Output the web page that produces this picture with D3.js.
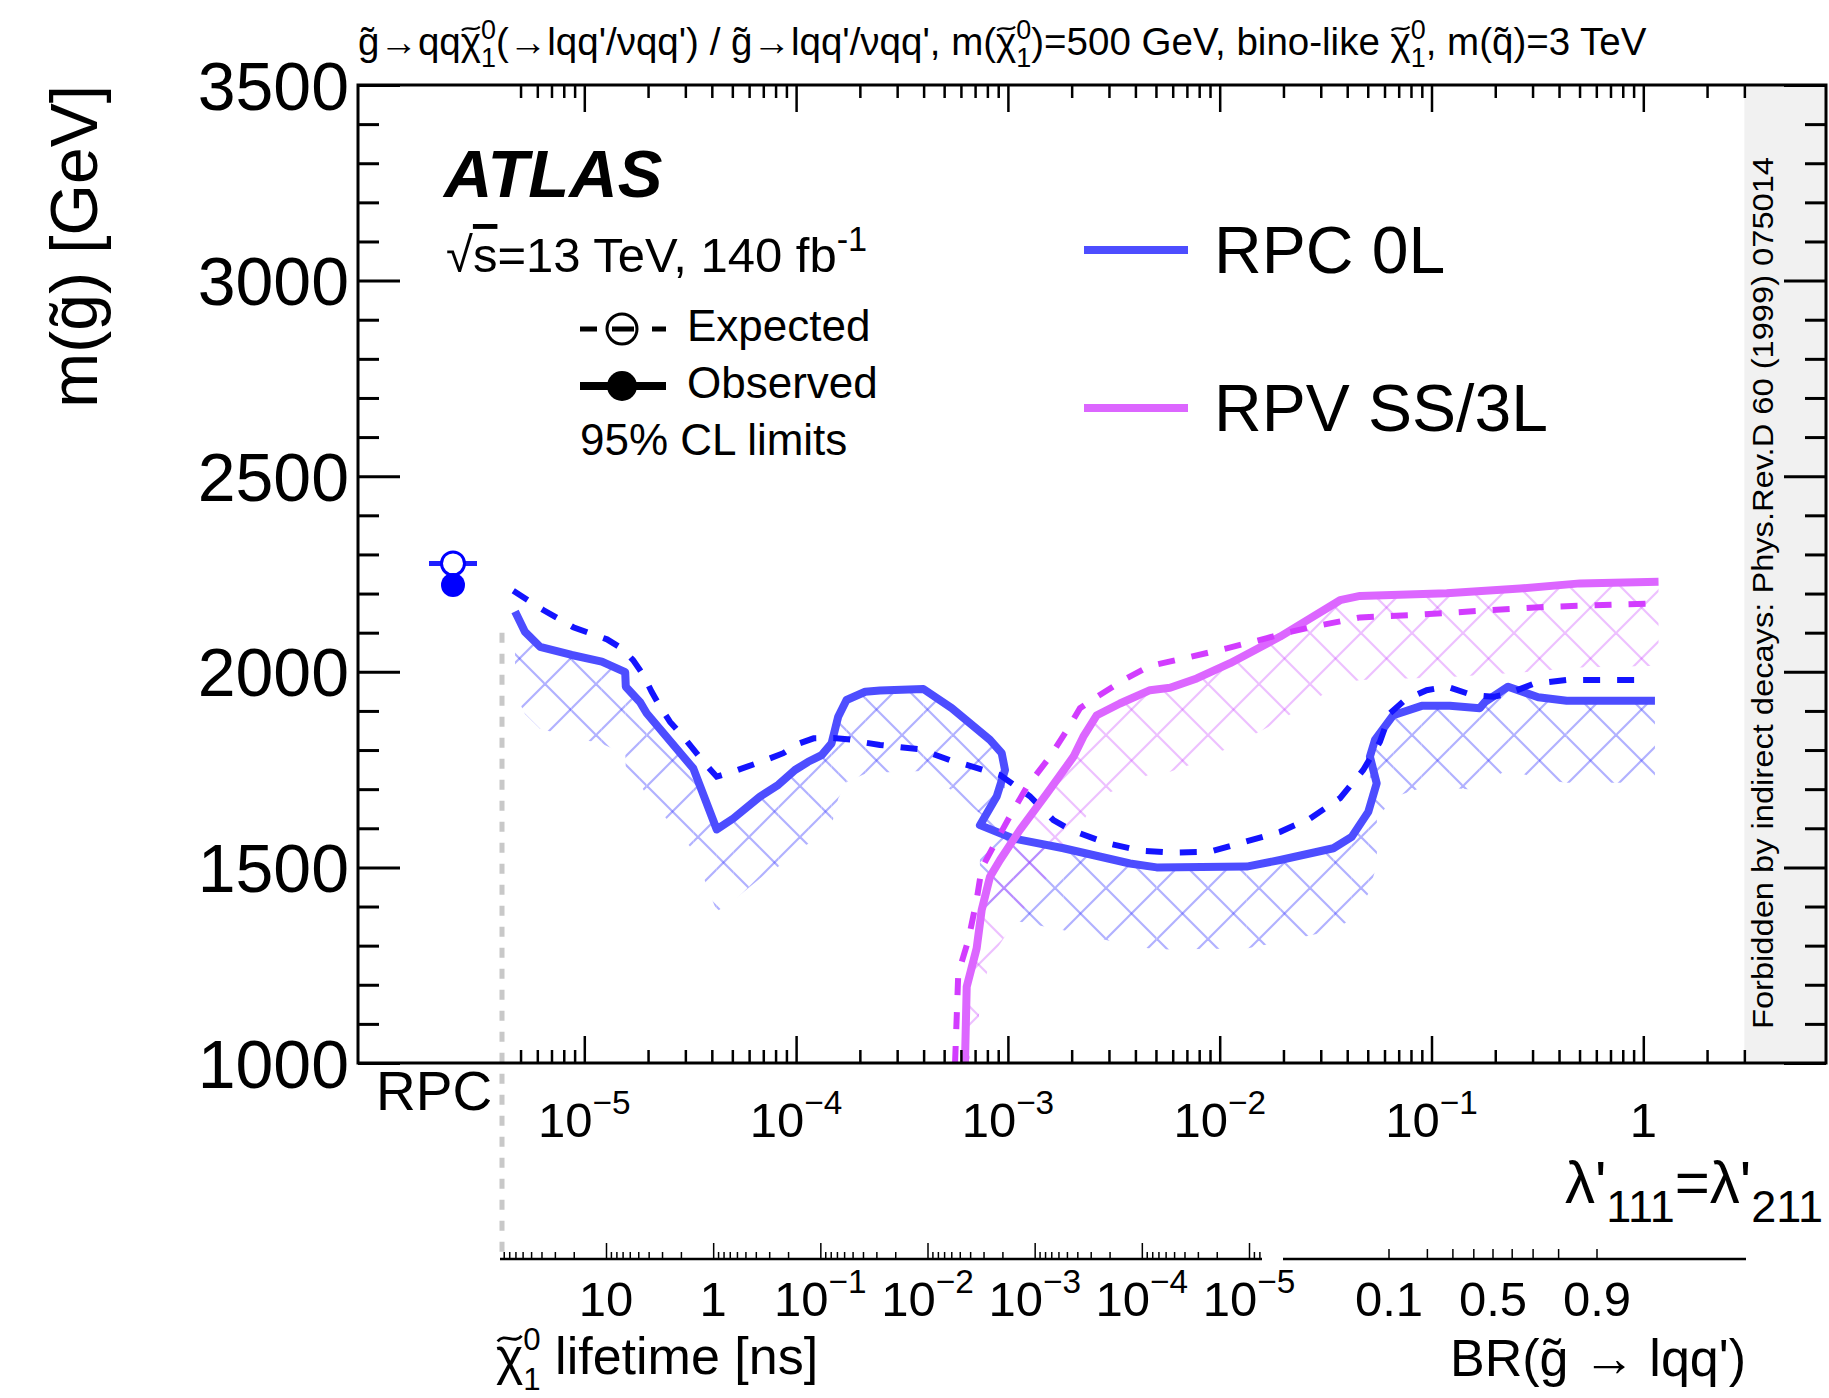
<!DOCTYPE html>
<html>
<head>
<meta charset="utf-8">
<script src="https://cdn.jsdelivr.net/npm/d3@7"></script>
<style>
  html, body { margin: 0; padding: 0; background: #fff; }
  svg text { font-family: "Liberation Sans", Arial, Helvetica, sans-serif; fill: #000; }
</style>
</head>
<body>
<div id="container"></div>
<script>
const W = 1829, H = 1398;

// --- Data ---
const massTicks = d3.range(1000, 3501, 100);
const massLabels = [1000, 1500, 2000, 2500, 3000, 3500];
const lambdaLabels = [1e-5, 1e-4, 1e-3, 1e-2, 1e-1, 1];
const lifetimeLabels = [10, 1, 1e-1, 1e-2, 1e-3, 1e-4, 1e-5];
const brTicks = [0.1, 0.2, 0.3, 0.4, 0.5, 0.6, 0.7, 0.8, 0.9];
const brLabels = [0.1, 0.5, 0.9];

const rpcExpected = 2277;
const rpcObserved = 2222;

const rpcObsLambda = [4.71e-6, 5.25e-6, 6.18e-6, 8.72e-6, 1.21e-5, 1.56e-5, 1.57e-5, 1.83e-5, 1.97e-5, 3.27e-5,
  4.22e-5, 5.05e-5, 6.75e-5, 8.24e-5, 9.88e-5, 1.14e-4, 1.32e-4, 1.47e-4, 1.58e-4, 1.73e-4,
  2.12e-4, 2.49e-4, 3.99e-4, 5.43e-4, 8.23e-4, 9.35e-4, 9.69e-4, 8.85e-4, 7.38e-4, 1.06e-3,
  1.83e-3, 3.77e-3, 5.04e-3, 1.34e-2, 1.93e-2, 3.44e-2, 4.20e-2, 5.03e-2, 5.51e-2, 5.12e-2,
  5.41e-2, 6.60e-2, 8.99e-2, 0.122, 0.169, 0.179, 0.230, 0.319, 0.435, 1.135];
const rpcObsMass = [2154, 2102, 2064, 2043, 2026, 1999, 1962, 1923, 1894, 1753,
  1597, 1625, 1681, 1711, 1749, 1770, 1787, 1817, 1885, 1928,
  1949, 1952, 1956, 1907, 1826, 1792, 1749, 1681, 1608, 1574,
  1549, 1510, 1500, 1502, 1519, 1549, 1578, 1642, 1715, 1783,
  1826, 1889, 1913, 1913, 1907, 1923, 1962, 1935, 1926, 1926];

const rpcExpLambda = [4.62e-6, 6.40e-6, 8.87e-6, 1.28e-5, 1.50e-5, 1.70e-5, 1.90e-5, 2.08e-5, 2.28e-5, 2.54e-5,
  2.93e-5, 3.65e-5, 4.22e-5, 5.05e-5, 7.0e-5, 8.70e-5, 1.01e-4, 1.21e-4, 1.50e-4, 1.80e-4,
  2.12e-4, 2.49e-4, 3.85e-4, 5.33e-4, 6.39e-4, 9.18e-4, 1.10e-3, 1.27e-3, 1.64e-3, 1.97e-3,
  2.93e-3, 4.21e-3, 6.04e-3, 9.0e-3, 1.25e-2, 1.93e-2, 2.67e-2, 3.70e-2, 4.76e-2, 5.71e-2,
  6.37e-2, 7.50e-2, 9.49e-2, 0.118, 0.155, 0.196, 0.227, 0.302, 0.435, 1.04];
const rpcExpMass = [2207, 2158, 2114, 2083, 2060, 2030, 1992, 1949, 1911, 1872,
  1834, 1770, 1732, 1745, 1772, 1792, 1815, 1830, 1831, 1827,
  1819, 1813, 1802, 1774, 1762, 1736, 1706, 1682, 1621, 1596,
  1562, 1543, 1538, 1540, 1562, 1591, 1625, 1677, 1749, 1821,
  1894, 1928, 1953, 1962, 1941, 1936, 1943, 1969, 1979, 1979];

const rpvObsLambda = [6.27e-4, 6.39e-4, 7.12e-4, 7.52e-4, 8.23e-4, 9.18e-4, 1.14e-3, 1.53e-3, 2.04e-3, 2.27e-3,
  2.63e-3, 3.38e-3, 4.69e-3, 5.83e-3, 7.79e-3, 1.12e-2, 1.93e-2, 3.70e-2, 4.60e-2, 0.118,
  0.262, 0.502, 1.18];
const rpvObsMass = [1000, 1195, 1293, 1391, 1476, 1519, 1596, 1689, 1783, 1834,
  1889, 1919, 1953, 1959, 1983, 2022, 2090, 2183, 2194, 2201,
  2213, 2226, 2230];

const rpvExpLambda = [5.63e-4, 5.83e-4, 6.50e-4, 7.12e-4, 7.52e-4, 8.53e-4, 1.02e-3, 1.23e-3, 1.58e-3, 1.90e-3,
  2.19e-3, 2.63e-3, 3.51e-3, 4.69e-3, 7.24e-3, 1.08e-2, 1.67e-2, 2.07e-2, 2.87e-2, 4.60e-2,
  8.21e-2, 0.169, 0.350, 1.135];
const rpvExpMass = [1000, 1229, 1314, 1417, 1498, 1553, 1630, 1706, 1783, 1851,
  1907, 1936, 1979, 2015, 2038, 2060, 2086, 2100, 2117, 2139,
  2145, 2156, 2166, 2175];

// --- Layout ---
const fr = { left: 358, right: 1826, top: 85, bottom: 1063 };
const sepX = 502;           // RPC | RPV separator
const lifeY = 1259, lifeX0 = 500, lifeX1 = 1262;
const brX0 = 1283, brX1 = 1746;

const x = d3.scaleLog().domain([1e-5, 1]).range([584.3, 1643.3]);
const y = d3.scaleLinear().domain([1000, 3500]).range([fr.bottom, fr.top]);
const tau = d3.scaleLog().domain([10, 1e-5]).range([606, 1249]);
const logit = p => Math.log10(p / (1 - p));
const br = d3.scaleLinear().domain([logit(0.1), logit(0.9)]).range([1389, 1597]);
const rpcX = d3.scalePoint().domain(["RPC"]).range([453, 453]);

const COL = {
  rpcObs: "#4d4dff", rpcExp: "#1414ff", rpvObs: "#dc66ff", rpvExp: "#d23cff",
  hatchBlue: "rgba(60,60,255,0.40)", hatchMag: "rgba(200,60,255,0.32)"
};

const svg = d3.select("#container").append("svg")
  .attr("width", W).attr("height", H).attr("viewBox", `0 0 ${W} ${H}`);
const defs = svg.append("defs");

// hatch pattern (crossed diagonals)
function hatch(id, color) {
  const p = defs.append("pattern").attr("id", id)
    .attr("patternUnits", "userSpaceOnUse")
    .attr("x", 35).attr("y", 21).attr("width", 51).attr("height", 51);
  p.append("line").attr("x1", -5).attr("y1", -5).attr("x2", 56).attr("y2", 56)
    .attr("stroke", color).attr("stroke-width", 2.2);
  p.append("line").attr("x1", -5).attr("y1", 56).attr("x2", 56).attr("y2", -5)
    .attr("stroke", color).attr("stroke-width", 2.2);
}
hatch("hBlue", COL.hatchBlue);
hatch("hMag", COL.hatchMag);

defs.append("clipPath").attr("id", "frameClip").append("rect")
  .attr("x", fr.left).attr("y", fr.top).attr("width", fr.right - fr.left).attr("height", fr.bottom - fr.top);
defs.append("clipPath").attr("id", "rpvClip").append("rect")
  .attr("x", sepX).attr("y", fr.top).attr("width", fr.right - sepX).attr("height", fr.bottom - fr.top);

// excluded band: the curve swept downward by d pixels (union of parallelograms)
function bandClip(id, lam, mass, d) {
  const pts = lam.map((l, i) => [x(l), y(mass[i])]);
  const cp = defs.append("clipPath").attr("id", id);
  for (let i = 0; i < pts.length - 1; i++) {
    const [ax, ay] = pts[i], [bx, by] = pts[i + 1];
    cp.append("path").attr("d",
      `M${ax},${ay}L${bx},${by}L${bx},${by + d}L${ax},${ay + d}Z`);
  }
}
bandClip("bandRpc", rpcObsLambda, rpcObsMass, 82);
bandClip("bandRpv", rpvObsLambda, rpvObsMass, 84);

// --- Forbidden region band ---
svg.append("rect").attr("x", x(3)).attr("y", fr.top)
  .attr("width", fr.right - x(3)).attr("height", fr.bottom - fr.top)
  .attr("fill", "#f1f1f1");
svg.append("text")
  .attr("transform", `translate(1773,1029) rotate(-90)`)
  .attr("font-size", 30).attr("textLength", 872).attr("lengthAdjust", "spacingAndGlyphs")
  .text("Forbidden by indirect decays: Phys.Rev.D 60 (1999) 075014");

// --- Hatched exclusion bands ---
svg.append("g").attr("clip-path", "url(#rpvClip)")
  .append("rect").attr("x", fr.left).attr("y", fr.top)
  .attr("width", fr.right - fr.left).attr("height", fr.bottom - fr.top)
  .attr("fill", "url(#hBlue)").attr("clip-path", "url(#bandRpc)");
svg.append("g").attr("clip-path", "url(#frameClip)")
  .append("rect").attr("x", fr.left).attr("y", fr.top)
  .attr("width", fr.right - fr.left).attr("height", fr.bottom - fr.top)
  .attr("fill", "url(#hMag)").attr("clip-path", "url(#bandRpv)");

// --- Curves ---
const line = d3.line().x(d => x(d[0])).y(d => y(d[1]));
const curves = svg.append("g").attr("clip-path", "url(#frameClip)").attr("fill", "none");
curves.append("path").datum(d3.zip(rpcObsLambda, rpcObsMass)).attr("d", line)
  .attr("stroke", COL.rpcObs).attr("stroke-width", 8).attr("stroke-linejoin", "round");
curves.append("path").datum(d3.zip(rpcExpLambda, rpcExpMass)).attr("d", line)
  .attr("stroke", COL.rpcExp).attr("stroke-width", 6).attr("stroke-dasharray", "17,17");
curves.append("path").datum(d3.zip(rpvObsLambda, rpvObsMass)).attr("d", line)
  .attr("stroke", COL.rpvObs).attr("stroke-width", 8).attr("stroke-linejoin", "round");
curves.append("path").datum(d3.zip(rpvExpLambda, rpvExpMass)).attr("d", line)
  .attr("stroke", COL.rpvExp).attr("stroke-width", 6).attr("stroke-dasharray", "17,17");

// --- RPC-only points ---
const rx = rpcX("RPC");
svg.append("line").attr("x1", rx - 24).attr("x2", rx + 24)
  .attr("y1", y(rpcExpected)).attr("y2", y(rpcExpected))
  .attr("stroke", "#2020ff").attr("stroke-width", 5);
svg.append("circle").attr("cx", rx).attr("cy", y(rpcExpected)).attr("r", 11.5)
  .attr("fill", "#fff").attr("stroke", "#0000ff").attr("stroke-width", 3);
svg.append("circle").attr("cx", rx).attr("cy", y(rpcObserved)).attr("r", 12)
  .attr("fill", "#0000ff");

// separator
svg.append("line").attr("x1", sepX).attr("x2", sepX)
  .attr("y1", y(2100)).attr("y2", lifeY)
  .attr("stroke", "#c8c8c8").attr("stroke-width", 5).attr("stroke-dasharray", "10,11");

// --- Axes ---
function clean(g, sw) {
  g.select(".domain").remove();
  g.selectAll(".tick line").attr("stroke", "#000").attr("stroke-width", sw);
  return g;
}
const isDecade = v => Math.abs(Math.log10(v) - Math.round(Math.log10(v))) < 1e-9;
const lamTicks = d3.scaleLog().domain([5e-6, 3]).ticks();
const lamMinor = lamTicks.filter(v => !isDecade(v));
const lamMajor = lamTicks.filter(isDecade);

clean(svg.append("g").attr("transform", `translate(0,${fr.bottom})`)
  .call(d3.axisBottom(x).tickValues(lamMinor).tickSize(-13).tickFormat("")), 2.5);
clean(svg.append("g").attr("transform", `translate(0,${fr.bottom})`)
  .call(d3.axisBottom(x).tickValues(lamMajor).tickSize(-27).tickFormat("")), 2.5);
clean(svg.append("g").attr("transform", `translate(0,${fr.top})`)
  .call(d3.axisTop(x).tickValues(lamMinor).tickSize(-13).tickFormat("")), 2.5);
clean(svg.append("g").attr("transform", `translate(0,${fr.top})`)
  .call(d3.axisTop(x).tickValues(lamMajor).tickSize(-27).tickFormat("")), 2.5);

const minorMass = massTicks.filter(v => v % 500 !== 0);
clean(svg.append("g").attr("transform", `translate(${fr.left},0)`)
  .call(d3.axisLeft(y).tickValues(minorMass).tickSize(-21).tickFormat("")), 3);
const yAx = clean(svg.append("g").attr("transform", `translate(${fr.left},0)`)
  .call(d3.axisLeft(y).tickValues(massLabels).tickSize(-42).tickPadding(9).tickFormat(d3.format("d"))), 3);
yAx.attr("font-family", null).attr("font-size", null);
yAx.selectAll(".tick text").attr("font-size", 68).attr("fill", "#000").attr("dy", "0.355em");
clean(svg.append("g").attr("transform", `translate(${fr.right},0)`)
  .call(d3.axisRight(y).tickValues(minorMass).tickSize(-21).tickFormat("")), 3);
clean(svg.append("g").attr("transform", `translate(${fr.right},0)`)
  .call(d3.axisRight(y).tickValues(massLabels).tickSize(-42).tickFormat("")), 3);

// frame
svg.append("rect").attr("x", fr.left).attr("y", fr.top)
  .attr("width", fr.right - fr.left).attr("height", fr.bottom - fr.top)
  .attr("fill", "none").attr("stroke", "#000").attr("stroke-width", 3);

// power-of-ten label
function powLabel(v, px, base, fs) {
  const t = svg.append("text").attr("x", px).attr("y", base)
    .attr("text-anchor", "middle").attr("font-size", fs);
  const e = Math.round(Math.log10(v));
  if (e === 0) { t.text("1"); return; }
  if (e === 1) { t.text("10"); return; }
  t.append("tspan").text("10");
  t.append("tspan").attr("font-size", fs * 0.68).attr("dy", -fs * 0.46).text("\u2212" + (-e));
}
lambdaLabels.forEach(v => powLabel(v, x(v), 1137, 49));

svg.append("text").attr("x", 376).attr("y", 1110).attr("font-size", 55).text("RPC");

// rich text: "n" normal, "acc" drawn tilde over previous glyph, "sup", "sub" (stacked under previous sup)
function rich(t, parts, fs, sc = 0.7, supUp = 0.42) {
  let cur = 0, lastSup = 0, prev = null;
  const accents = [];
  parts.forEach(([s, k, extra]) => {
    if (k === "acc") { accents.push(prev); return; }
    const ts = t.append("tspan").text(s);
    let dx = 0;
    if (k === "sup") {
      ts.attr("font-size", fs * sc).attr("dy", -fs * supUp - cur);
      cur = -fs * supUp;
      lastSup = ts.node().getComputedTextLength();
    } else if (k === "sub") {
      dx -= lastSup;
      const off = fs * (extra || 0.32);
      ts.attr("font-size", fs * sc).attr("dy", off - cur);
      cur = off;
    } else {
      if (cur !== 0) ts.attr("dy", -cur);
      cur = 0;
    }
    if (dx !== 0) ts.attr("dx", dx);
    prev = ts.node();
  });
  accents.forEach(node => {
    const b = node.getExtentOfChar(node.getNumberOfChars() - 1);
    const cx = b.x + b.width / 2, ty = b.y + b.height * 0.2;
    const w = fs * 0.46, a = fs * 0.075;
    svg.append("path")
      .attr("d", `M${cx - w / 2},${ty + a * 0.7}C${cx - w / 5},${ty - a * 1.6} ${cx + w / 5},${ty + a * 1.6} ${cx + w / 2},${ty - a * 0.7}`)
      .attr("fill", "none").attr("stroke", "#000").attr("stroke-width", fs * 0.055);
  });
  return t;
}

// lambda axis title
const lt = svg.append("text").attr("x", 1823).attr("y", 1203).attr("text-anchor", "end").attr("font-size", 60);
[["\u03bb'", 0], ["111", 1], ["=\u03bb'", 0], ["211", 1]].forEach(([s, sub]) => {
  const ts = lt.append("tspan").text(s);
  if (sub) ts.attr("font-size", 45).attr("dy", 19);
  else if (s !== "\u03bb'") ts.attr("dy", -19);
});

// lifetime axis
svg.append("line").attr("x1", lifeX0).attr("x2", lifeX1).attr("y1", lifeY).attr("y2", lifeY)
  .attr("stroke", "#000").attr("stroke-width", 2.5);
const lifeTicks = d3.scaleLog().domain([tau.invert(lifeX1), tau.invert(lifeX0)]).ticks();
clean(svg.append("g").attr("transform", `translate(0,${lifeY})`)
  .call(d3.axisBottom(tau).tickValues(lifeTicks.filter(v => !isDecade(v))).tickSize(-7).tickFormat("")), 1.5);
clean(svg.append("g").attr("transform", `translate(0,${lifeY})`)
  .call(d3.axisBottom(tau).tickValues(lifeTicks.filter(isDecade)).tickSize(-16).tickFormat("")), 1.5);
lifetimeLabels.forEach(v => powLabel(v, tau(v), 1316, 49));

const ltT = svg.append("text").attr("x", 496).attr("y", 1374).attr("font-size", 52);
rich(ltT, [["\u03c7", "n"], ["~", "acc"], ["0", "sup"], ["1", "sub", 0.3], [" lifetime [ns]", "n"]], 52, 0.6, 0.46);

// BR axis
svg.append("line").attr("x1", brX0).attr("x2", brX1).attr("y1", lifeY).attr("y2", lifeY)
  .attr("stroke", "#000").attr("stroke-width", 2.5);
brTicks.forEach(v => {
  svg.append("line").attr("x1", br(logit(v))).attr("x2", br(logit(v)))
    .attr("y1", lifeY).attr("y2", lifeY - 10).attr("stroke", "#000").attr("stroke-width", 1.5);
});
brLabels.forEach(v => {
  svg.append("text").attr("x", br(logit(v))).attr("y", 1316).attr("text-anchor", "middle")
    .attr("font-size", 49).text(d3.format(".1f")(v));
});
svg.append("text").attr("x", 1746).attr("y", 1376).attr("text-anchor", "end")
  .attr("font-size", 52).text("BR(g\u0303 \u2192 lqq')");

// y axis title
svg.append("text").attr("transform", `translate(97,${fr.top}) rotate(-90)`)
  .attr("text-anchor", "end").attr("font-size", 66).text("m(g\u0303) [GeV]");

// top title
const chi = [["\u03c7", "n"], ["~", "acc"], ["0", "sup"], ["1", "sub"]];
rich(svg.append("text").attr("x", 358).attr("y", 55).attr("font-size", 38.5), [
  ["g\u0303\u2192qq", "n"], ...chi, ["(\u2192lqq'/\u03bdqq') / g\u0303\u2192lqq'/\u03bdqq', m(", "n"], ...chi,
  [")=500 GeV, bino-like ", "n"], ...chi, [", m(q\u0303)=3 TeV", "n"]], 38.5);

// ATLAS label
svg.append("text").attr("x", 444).attr("y", 197).attr("font-size", 67)
  .attr("font-weight", "bold").attr("font-style", "italic").text("ATLAS");
const sq = svg.append("text").attr("x", 446).attr("y", 272).attr("font-size", 49);
sq.append("tspan").text("\u221a");
sq.append("tspan").attr("text-decoration", "overline").text("s");
rich(sq, [["=13 TeV, 140 fb", "n"], ["-1", "sup"]], 49);

// line-style legend
const lg = svg.append("g");
lg.append("line").attr("x1", 580).attr("x2", 666).attr("y1", 329).attr("y2", 329)
  .attr("stroke", "#000").attr("stroke-width", 5).attr("stroke-dasharray", "17,15,22,18,14");
lg.append("circle").attr("cx", 622).attr("cy", 329).attr("r", 15)
  .attr("fill", "none").attr("stroke", "#000").attr("stroke-width", 3);
lg.append("line").attr("x1", 580).attr("x2", 666).attr("y1", 386).attr("y2", 386)
  .attr("stroke", "#000").attr("stroke-width", 8);
lg.append("circle").attr("cx", 622).attr("cy", 386).attr("r", 15).attr("fill", "#000");
lg.append("text").attr("x", 687).attr("y", 341).attr("font-size", 44).text("Expected");
lg.append("text").attr("x", 687).attr("y", 398).attr("font-size", 44).text("Observed");
lg.append("text").attr("x", 580).attr("y", 455).attr("font-size", 44).text("95% CL limits");

// analysis legend
const al = svg.append("g");
al.append("line").attr("x1", 1084).attr("x2", 1188).attr("y1", 250).attr("y2", 250)
  .attr("stroke", COL.rpcObs).attr("stroke-width", 8);
al.append("text").attr("x", 1214).attr("y", 273).attr("font-size", 66).text("RPC 0L");
al.append("line").attr("x1", 1084).attr("x2", 1188).attr("y1", 408).attr("y2", 408)
  .attr("stroke", COL.rpvObs).attr("stroke-width", 8);
al.append("text").attr("x", 1214).attr("y", 431).attr("font-size", 66).text("RPV SS/3L");
</script>
</body>
</html>
